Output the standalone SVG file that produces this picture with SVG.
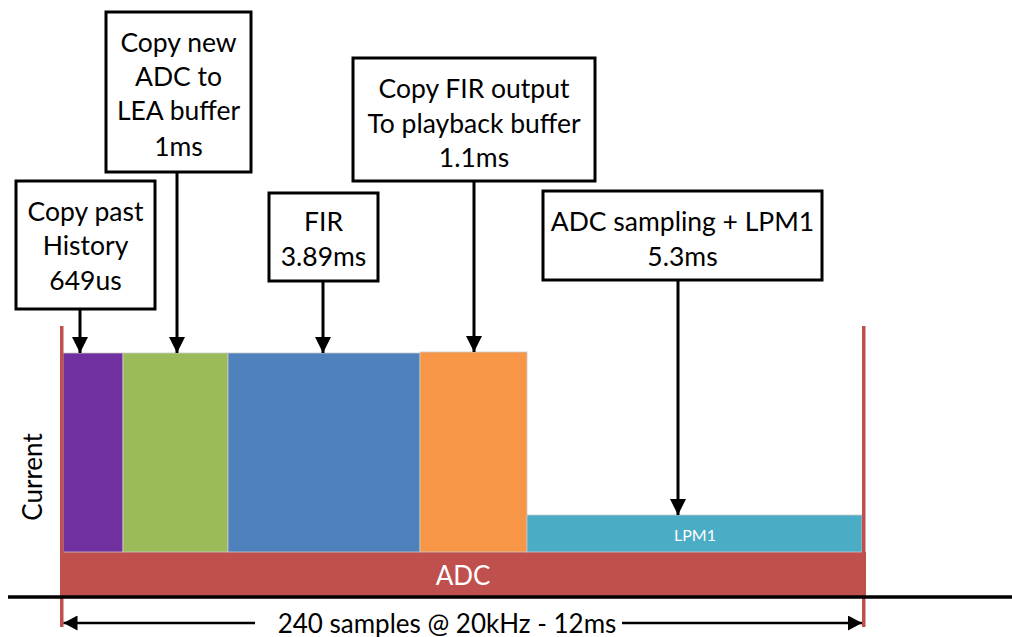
<svg xmlns="http://www.w3.org/2000/svg" width="1012" height="637" viewBox="0 0 1012 637">
  <defs>
    <marker id="ah" markerUnits="userSpaceOnUse" markerWidth="16" markerHeight="16" refX="16" refY="8" orient="auto">
      <path d="M0,0 L16,8 L0,16 z" fill="#000"/>
    </marker>
    <marker id="ahs" markerUnits="userSpaceOnUse" markerWidth="14" markerHeight="15" refX="14" refY="7.5" orient="auto">
      <path d="M0,0 L14,7.5 L0,15 z" fill="#000"/>
    </marker>
    <style>
      .box { fill: #fff; stroke: #000; stroke-width: 3; }
      .lbl { font-family: Lato, "Liberation Sans", sans-serif; font-size: 26.5px; fill: #000; text-anchor: middle; }
      .con { stroke: #000; stroke-width: 3; fill: none; marker-end: url(#ah); }
      .bar { stroke: #c9c9c9; stroke-width: 0.8; }
      .wt { font-family: Lato, "Liberation Sans", sans-serif; fill: #fff; text-anchor: middle; }
    </style>
  </defs>
  <rect width="1012" height="637" fill="#fff"/>

  <!-- bars -->
  <g id="bars">
    <rect id="adc-bar" x="61" y="552" width="805" height="45" fill="#C0504D"/>
    <rect id="copy-history" class="bar" x="63" y="353" width="60" height="199" fill="#7030A0"/>
    <rect id="copy-adc" class="bar" x="123" y="353" width="105" height="199" fill="#9BBB59"/>
    <rect id="fir" class="bar" x="228" y="353" width="192" height="199" fill="#4F81BD"/>
    <rect id="copy-fir" class="bar" x="420" y="352" width="107" height="200" fill="#F79646"/>
    <rect id="lpm1" class="bar" x="527" y="515" width="335" height="37" fill="#4BACC6"/>
    <text class="wt" x="695" y="541" font-size="16">LPM1</text>
    <text class="wt" x="463" y="585" font-size="26">ADC</text>
    <rect x="60" y="326" width="3.5" height="301" fill="#C0504D"/>
    <rect x="862" y="326" width="3.5" height="301" fill="#C0504D"/>
    <line x1="8" y1="597" x2="1012" y2="597" stroke="#000" stroke-width="3.5"/>
  </g>

  <text id="axis-label" class="lbl" transform="translate(41.5,477) rotate(-90)" style="font-size:26px">Current</text>

  <!-- nodes -->
  <g id="n-history">
    <rect class="box" x="16" y="181" width="139" height="128"/>
    <text class="lbl" x="85.5" y="221">Copy past</text>
    <text class="lbl" x="85.5" y="255">History</text>
    <text class="lbl" x="85.5" y="290">649us</text>
  </g>
  <g id="n-copyadc">
    <rect class="box" x="106" y="12" width="145" height="160"/>
    <text class="lbl" x="178.5" y="52">Copy new</text>
    <text class="lbl" x="178.5" y="86">ADC to</text>
    <text class="lbl" x="178.5" y="120">LEA buffer</text>
    <text class="lbl" x="178.5" y="156">1ms</text>
  </g>
  <g id="n-fir">
    <rect class="box" x="269" y="193" width="109" height="88"/>
    <text class="lbl" x="323.5" y="231">FIR</text>
    <text class="lbl" x="323.5" y="266">3.89ms</text>
  </g>
  <g id="n-copyfir">
    <rect class="box" x="353" y="58" width="242" height="123"/>
    <text class="lbl" x="474" y="98">Copy FIR output</text>
    <text class="lbl" x="474" y="133">To playback buffer</text>
    <text class="lbl" x="474" y="167">1.1ms</text>
  </g>
  <g id="n-adcsampling">
    <rect class="box" x="543" y="191" width="279" height="89"/>
    <text class="lbl" x="682.5" y="231">ADC sampling + LPM1</text>
    <text class="lbl" x="682.5" y="266">5.3ms</text>
  </g>

  <!-- connectors -->
  <g id="connectors">
    <line class="con" x1="80" y1="309" x2="80" y2="353"/>
    <line class="con" x1="177" y1="172" x2="177" y2="353"/>
    <line class="con" x1="323" y1="281" x2="323" y2="353"/>
    <line class="con" x1="474" y1="181" x2="474" y2="352"/>
    <line class="con" x1="678" y1="280" x2="678" y2="515"/>
    <line x1="255" y1="623" x2="63.5" y2="623" stroke="#000" stroke-width="2.5" marker-end="url(#ahs)"/>
    <line x1="622" y1="623" x2="862" y2="623" stroke="#000" stroke-width="2.5" marker-end="url(#ahs)"/>
  </g>
  <text class="lbl" x="447" y="633" style="font-size:26px">240 samples @ 20kHz - 12ms</text>
</svg>
